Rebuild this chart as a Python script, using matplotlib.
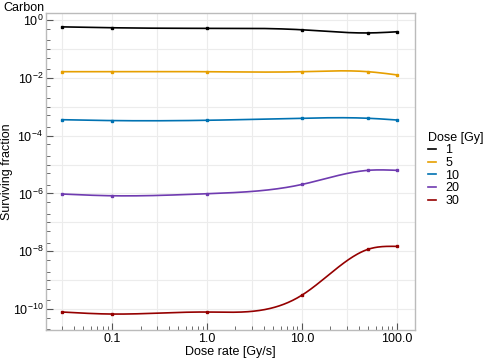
#!/usr/bin/env python3
"""
Surviving fraction vs dose rate for carbon ions
"""
import numpy as np
import matplotlib
matplotlib.use("Agg")
import matplotlib.pyplot as plt
from matplotlib.ticker import LogLocator, FixedLocator, FixedFormatter, NullFormatter

plt.rcParams['font.family'] = ['Liberation Sans', 'DejaVu Sans']
plt.rcParams['mathtext.fontset'] = 'custom'
plt.rcParams['mathtext.rm'] = 'Liberation Sans'
plt.rcParams['mathtext.it'] = 'Liberation Sans'

# data
dose_rates = [0.03, 0.1, 1.0, 10.0, 50.0, 100.0]
doses = ["1", "5", "10", "20", "30"]
log_sf_1 = [-0.24, -0.27, -0.29, -0.34, -0.45, -0.41]
log_sf_5 = [-1.79, -1.79, -1.79, -1.79, -1.79, -1.90]
log_sf_10 = [-3.45, -3.48, -3.47, -3.40, -3.40, -3.46]
log_sf_20 = [-6.02, -6.08, -6.01, -5.69, -5.20, -5.20]
log_sf_30 = [-10.10, -10.17, -10.10, -9.52, -7.93, -7.83]
colors = ["#000000", "#E69F00", "#0072B2", "#6F3BB0", "#950000"]


def natural_spline(x, y, xs):
    """Natural cubic spline through (x, y), evaluated at xs"""
    x = np.asarray(x, float)
    y = np.asarray(y, float)
    n = len(x)
    h = np.diff(x)
    A = np.zeros((n, n))
    b = np.zeros(n)
    A[0, 0] = 1
    A[-1, -1] = 1
    for i in range(1, n - 1):
        A[i, i - 1] = h[i - 1]
        A[i, i] = 2 * (h[i - 1] + h[i])
        A[i, i + 1] = h[i]
        b[i] = 3 * ((y[i + 1] - y[i]) / h[i] - (y[i] - y[i - 1]) / h[i - 1])
    c = np.linalg.solve(A, b)
    out = np.empty_like(xs)
    for k, xv in enumerate(xs):
        i = min(max(np.searchsorted(x, xv) - 1, 0), n - 2)
        dx = xv - x[i]
        bb = (y[i + 1] - y[i]) / h[i] - h[i] * (2 * c[i] + c[i + 1]) / 3
        d = (c[i + 1] - c[i]) / (3 * h[i])
        out[k] = y[i] + bb * dx + c[i] * dx ** 2 + d * dx ** 3
    return out


fig = plt.figure(figsize=(4.84, 3.61), dpi=100)
ax = fig.add_axes([0.095, 0.086, 0.762, 0.878])

lx = np.log10(dose_rates)
xs = np.linspace(lx[0], lx[-1], 300)
for label, ys, col in zip(doses, [log_sf_1, log_sf_5, log_sf_10, log_sf_20, log_sf_30], colors):
    smooth = natural_spline(lx, ys, xs)
    ax.plot(10 ** xs, 10 ** smooth, color=col, lw=1.2, label=label)
    ax.plot(dose_rates, 10 ** np.asarray(ys), 's', color=col, ms=2)

ax.set_xscale('log')
ax.set_yscale('log')
ax.set_xlim(0.0202, 155)
ax.set_ylim(10 ** -10.72, 10 ** 0.24)

ax.xaxis.set_major_locator(FixedLocator([0.1, 1, 10, 100]))
ax.xaxis.set_major_formatter(FixedFormatter(["0.1", "1.0", "10.0", "100.0"]))
ax.xaxis.set_minor_locator(LogLocator(base=10, subs=np.arange(2, 10), numticks=20))
ax.xaxis.set_minor_formatter(NullFormatter())
ax.yaxis.set_major_locator(FixedLocator([10.0 ** e for e in range(-10, 1, 2)]))
ax.yaxis.set_major_formatter(FixedFormatter(
    ["$10^{%d}$" % e for e in range(-10, 1, 2)]))
ax.yaxis.set_minor_locator(FixedLocator(
    [10.0 ** e * s for e in range(-11, 1) for s in (1, 2, 5) if 10.0 ** e * s not in
     [10.0 ** m for m in range(-10, 1, 2)]]))
ax.yaxis.set_minor_formatter(NullFormatter())

ax.tick_params(which='both', direction='in', color='#555555', labelsize=9, pad=2)
ax.tick_params(which='major', length=5, width=0.8)
ax.tick_params(which='minor', length=3, width=0.6)

# grid lines: every decade on y, 1 and 3 per decade on x
for gx in [0.03, 0.1, 0.3, 1, 3, 10, 30, 100]:
    ax.axvline(gx, color='#ececec', lw=0.8, zorder=0)
for e in range(-10, 1):
    ax.axhline(10.0 ** e, color='#ececec', lw=0.8, zorder=0)

for sp in ax.spines.values():
    sp.set_color('#bbbbbb')
    sp.set_linewidth(1.0)

ax.set_xlabel('Dose rate [Gy/s]', fontsize=9, labelpad=1)
ax.set_ylabel('Surviving fraction', fontsize=9)
ax.yaxis.set_label_coords(-0.09, 0.5)
fig.text(0.006, 0.978, 'Carbon', fontsize=9, ha='left', va='center')

leg = ax.legend(title='Dose [Gy]', loc='upper left', bbox_to_anchor=(1.035, 0.625),
                frameon=False, fontsize=9, title_fontsize=9, handlelength=0.7,
                handletextpad=0.7, labelspacing=0.05, borderaxespad=0, borderpad=0)
leg._legend_box.align = 'left'

fig.savefig('out.png', dpi=100)
